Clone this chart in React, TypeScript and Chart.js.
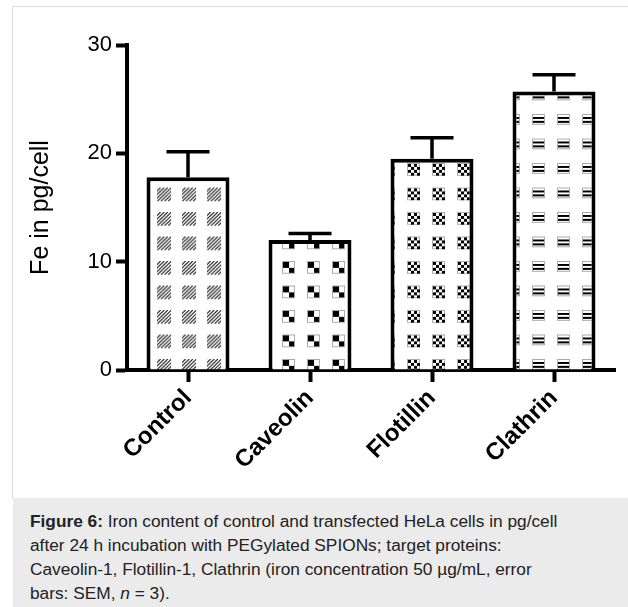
import React, { useEffect, useRef } from "react";
import { Chart, registerables } from "chart.js";

Chart.register(...registerables);

const categories = ["Control", "Caveolin", "Flotillin", "Clathrin"];
const meanValues = [17.8, 12.0, 19.5, 25.7];
const semValues = [2.35, 0.6, 1.95, 1.55];
const yTicks = [0, 10, 20, 30];
const yAxisTitle = "Fe in pg/cell";
const patternKinds = ["hatch", "checker2", "checker4", "lines"];

const FONT = '"Liberation Sans", Arial, Helvetica, sans-serif';

function makePattern(kind: string): CanvasPattern | string {
  const tile = document.createElement("canvas");
  tile.width = 25;
  tile.height = 25;
  const c = tile.getContext("2d");
  if (!c) return "#fff";
  c.fillStyle = "#fff";
  c.fillRect(0, 0, 25, 25);
  if (kind === "hatch") {
    c.save();
    c.beginPath();
    c.rect(0, 0, 14, 14);
    c.clip();
    c.strokeStyle = "#333";
    c.lineWidth = 1.2;
    for (let k = -14; k <= 14; k += 3.6) {
      c.beginPath();
      c.moveTo(k, 14);
      c.lineTo(k + 14, 0);
      c.stroke();
    }
    c.restore();
  } else if (kind === "checker2") {
    c.strokeStyle = "#aaa";
    c.lineWidth = 1;
    c.strokeRect(0.5, 0.5, 12, 12);
    c.fillStyle = "#000";
    c.fillRect(1, 1, 6, 6);
    c.fillRect(7, 7, 5, 5);
  } else if (kind === "checker4") {
    c.strokeStyle = "#aaa";
    c.lineWidth = 1;
    c.strokeRect(0.5, 0.5, 12, 12);
    c.fillStyle = "#000";
    for (let i = 0; i < 4; i++) {
      for (let j = 0; j < 4; j++) {
        if ((i + j) % 2 === 0) c.fillRect(1 + i * 3, 1 + j * 3, 3, 3);
      }
    }
  } else if (kind === "lines") {
    c.strokeStyle = "#aaa";
    c.lineWidth = 1;
    c.strokeRect(0.5, 0.5, 12, 10);
    c.strokeStyle = "#000";
    c.lineWidth = 2;
    c.beginPath();
    c.moveTo(1, 4);
    c.lineTo(12, 4);
    c.moveTo(1, 8);
    c.lineTo(12, 8);
    c.stroke();
  }
  const main = document.createElement("canvas").getContext("2d");
  if (!main) return "#fff";
  const p = main.createPattern(tile, "repeat");
  if (!p) return "#fff";
  try {
    p.setTransform(new DOMMatrix([1, 0, 0, 0.98, 7, 16]));
  } catch (e) {
    /* ignore */
  }
  return p;
}

const errorBarPlugin = {
  id: "errorBars",
  afterDatasetsDraw(chart: any) {
    const ctx = chart.ctx;
    const meta = chart.getDatasetMeta(0);
    const yScale = chart.scales.y;
    ctx.save();
    ctx.strokeStyle = "#000";
    ctx.lineWidth = 3.5;
    ctx.lineCap = "butt";
    meta.data.forEach((bar: any, i: number) => {
      const top = yScale.getPixelForValue(meanValues[i] + semValues[i]);
      const x = bar.x;
      const half = 21.5;
      ctx.beginPath();
      ctx.moveTo(x, bar.y);
      ctx.lineTo(x, top);
      ctx.moveTo(x - half, top);
      ctx.lineTo(x + half, top);
      ctx.stroke();
    });
    ctx.restore();
  },
};

export default function App() {
  const canvasRef = useRef<HTMLCanvasElement | null>(null);

  useEffect(() => {
    const canvas = canvasRef.current;
    if (!canvas) return;
    const patterns = patternKinds.map((k) => makePattern(k));
    const chart = new Chart(canvas, {
      type: "bar",
      data: {
        labels: categories,
        datasets: [
          {
            data: meanValues,
            backgroundColor: patterns as any,
            borderColor: "#000",
            borderWidth: 4,
            barPercentage: 0.68,
            categoryPercentage: 1,
          },
        ],
      },
      options: {
        responsive: false,
        animation: false,
        devicePixelRatio: 1,
        layout: { padding: { left: 0, right: 13, top: 45, bottom: 0 } },
        plugins: {
          legend: { display: false },
          tooltip: { enabled: false },
        },
        scales: {
          x: {
            type: "category",
            offset: true,
            grid: {
              display: true,
              drawOnChartArea: false,
              drawTicks: true,
              tickLength: 12,
              tickWidth: 4,
              tickColor: "#000",
              offset: false,
            },
            border: { display: true, color: "#000", width: 4 },
            ticks: {
              color: "#000",
              font: { family: FONT, size: 24, weight: "bold" },
              minRotation: 45,
              maxRotation: 45,
              padding: 2,
              autoSkip: false,
            },
            afterFit: (s: any) => {
              s.height = 128;
            },
          },
          y: {
            min: 0,
            max: 30,
            afterBuildTicks: (s: any) => {
              s.ticks = yTicks.map((v) => ({ value: v }));
            },
            grid: {
              display: true,
              drawOnChartArea: false,
              drawTicks: true,
              tickLength: 11,
              tickWidth: 4,
              tickColor: "#000",
            },
            border: { display: true, color: "#000", width: 4 },
            ticks: {
              color: "#000",
              font: { family: FONT, size: 22 },
              padding: 4,
            },
            title: {
              display: true,
              text: yAxisTitle,
              color: "#000",
              font: { family: FONT, size: 25 },
              padding: { top: 26, bottom: 0 },
            },
            afterFit: (s: any) => {
              s.width = 127;
            },
          },
        },
      } as any,
      plugins: [errorBarPlugin],
    });
    return () => chart.destroy();
  }, []);

  return (
    <div style={{ position: "absolute", left: 0, top: 0, width: 628, height: 607, overflow: "hidden", background: "#fff" }}>
      <div
        style={{
          position: "absolute",
          left: 12,
          top: 6,
          width: 620,
          height: 492,
          borderLeft: "1px solid #dcdcdc",
          borderTop: "1px solid #dcdcdc",
        }}
      />
      <div
        style={{
          position: "absolute",
          left: 13,
          top: 498,
          width: 615,
          height: 109,
          background: "#ebebeb",
        }}
      >
        <div
          style={{
            position: "absolute",
            left: 17,
            top: 11,
            fontFamily: FONT,
            fontSize: 17.3,
            lineHeight: "24px",
            color: "#222",
            whiteSpace: "nowrap",
          }}
        >
          <b>Figure 6:</b> Iron content of control and transfected HeLa cells in pg/cell
          <br />
          after 24 h incubation with PEGylated SPIONs; target proteins:
          <br />
          Caveolin-1, Flotillin-1, Clathrin (iron concentration 50 µg/mL, error
          <br />
          bars: SEM, <i>n</i> = 3).
        </div>
      </div>
      <canvas
        ref={canvasRef}
        width={628}
        height={498}
        style={{ position: "absolute", left: 0, top: 0, width: 628, height: 498 }}
      />
    </div>
  );
}
